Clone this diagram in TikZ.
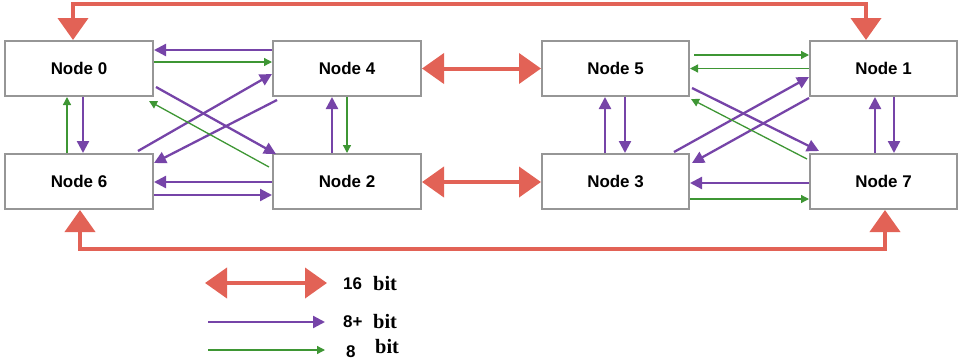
\documentclass[tikz,border=0pt]{standalone}
\usepackage{fontspec}
\setmainfont{Liberation Serif}
\newfontfamily\hv{Liberation Sans}
\usetikzlibrary{arrows.meta,calc}
\definecolor{linkred}{RGB}{226,98,86}
\definecolor{linkpurple}{RGB}{118,68,168}
\definecolor{linkgreen}{RGB}{62,150,52}
\definecolor{boxgray}{RGB}{150,150,150}
\tikzset{
  nodebox/.style={draw=boxgray, line width=2bp, fill=white, minimum width=148bp,
    minimum height=55bp, inner sep=0pt, font=\hv\bfseries\fontsize{17}{19}\selectfont},
  wide/.style={line width=4bp, draw=linkred,
    {Triangle[length=22bp,width=30bp]}-{Triangle[length=22bp,width=30bp]}},
  mid/.style={line width=2.3bp, draw=linkpurple, -{Triangle[length=12bp,width=12bp]}},
  thin/.style={line width=1.3bp, draw=linkgreen, -{Triangle[length=8bp,width=8bp]}},
  numtxt/.style={font=\hv\bfseries\fontsize{17}{19}\selectfont},
  unittxt/.style={font=\bfseries\fontsize{20.5}{22}\selectfont}
}
\begin{document}
\begin{tikzpicture}[x=1bp,y=-1bp]
\useasboundingbox (0,0) rectangle (958,362);

% the eight nodes
\node[nodebox] (n0) at (79,68.5)    {Node 0};
\node[nodebox] (n4) at (347,68.5)   {Node 4};
\node[nodebox] (n6) at (79,181.5)   {Node 6};
\node[nodebox] (n2) at (347,181.5)  {Node 2};
\node[nodebox, minimum width=147bp] (n5) at (615.5,68.5)  {Node 5};
\node[nodebox, minimum width=147bp] (n1) at (883.5,68.5)  {Node 1};
\node[nodebox, minimum width=147bp] (n3) at (615.5,181.5) {Node 3};
\node[nodebox, minimum width=147bp] (n7) at (883.5,181.5) {Node 7};

% 16 bit links
\draw[wide] ($(n0.north)+(-6,0)$) -- ++(0,-36) -| ($(n1.north)+(-17.5,0)$);
\draw[wide] ($(n6.south)+(1,0)$) -- ++(0,39) -| ($(n7.south)+(1.5,0)$);
\draw[wide] (n4.east) -- (n5.west);
\draw[wide] ($(n2.east)+(0,0.5)$) -- ($(n3.west)+(0,0.5)$);

% left group
\draw[mid]  ($(n4.west)+(0,-18.5)$) -- ($(n0.east)+(0,-18.5)$);
\draw[thin] ($(n0.east)+(0,-6.5)$) -- ($(n4.west)+(0,-6.5)$);
\draw[mid]  ($(n0.south)+(4,0)$) -- ($(n6.north)+(4,0)$);
\draw[thin] ($(n6.north)+(-12,0)$) -- ($(n0.south)+(-12,0)$);
\draw[mid]  ($(n2.north)+(-15,0)$) -- ($(n4.south)+(-15,0)$);
\draw[thin] (n4.south) -- (n2.north);
\draw[mid]  ($(n2.west)+(0,0.5)$) -- ($(n6.east)+(0,0.5)$);
\draw[mid]  ($(n6.east)+(0,13.5)$) -- ($(n2.west)+(0,13.5)$);
\draw[mid]  ($(n0.east)+(2,18.5)$) -- ($(n2.north west)+(4,1)$);
\draw[mid]  ($(n6.north east)+(-16,-2)$) -- ($(n4.west)+(0,5.5)$);
\draw[mid]  ($(n4.south west)+(5,3)$) -- ($(n6.east)+(0,-18.5)$);
\draw[thin] ($(n2.west)+(-3,-14.5)$) -- ($(n0.south east)+(-5,4)$);

% right group
\draw[thin] ($(n5.east)+(4,-13.5)$) -- ($(n1.west)+(0,-13.5)$);
\draw[thin] ($(n1.west)+(0,0)$) -- ($(n5.east)+(0,0)$);
\draw[mid]  ($(n3.north)+(-10.5,0)$) -- ($(n5.south)+(-10.5,0)$);
\draw[mid]  ($(n5.south)+(9.5,0)$) -- ($(n3.north)+(9.5,0)$);
\draw[mid]  ($(n7.north)+(-8.5,0)$) -- ($(n1.south)+(-8.5,0)$);
\draw[mid]  ($(n1.south)+(10.5,0)$) -- ($(n7.north)+(10.5,0)$);
\draw[mid]  ($(n7.west)+(0,1.5)$) -- ($(n3.east)+(0,1.5)$);
\draw[thin] ($(n3.east)+(0,17.5)$) -- ($(n7.west)+(0,17.5)$);
\draw[mid]  ($(n5.east)+(2,19.5)$) -- ($(n7.north west)+(10,-2)$);
\draw[mid]  ($(n3.north east)+(-16,-1)$) -- ($(n1.west)+(0,8.5)$);
\draw[mid]  ($(n1.south west)+(0,1)$) -- ($(n3.east)+(2,-18.5)$);
\draw[thin] ($(n7.north west)+(-2,6)$) -- ($(n5.south east)+(1,2)$);

% legend
\coordinate (la) at (205,283);
\coordinate (lb) at (327,283);
\coordinate (lc) at (208,322);
\coordinate (ld) at (325,322);
\coordinate (le) at (208,350);
\coordinate (lf) at (325,350);
\draw[wide] (la) -- (lb);
\draw[mid]  (lc) -- (ld);
\draw[thin] (le) -- (lf);
\node[anchor=base west, inner sep=0pt, numtxt] (t16) at (343,289.5) {16};
\node[anchor=base west, inner sep=0pt, unittxt] (b16) at (373,290.5) {bit};
\node[anchor=base west, inner sep=0pt, numtxt] (t8p) at (343,327.5) {8+};
\node[anchor=base west, inner sep=0pt, unittxt] (b8p) at (373,328.5) {bit};
\node[anchor=base west, inner sep=0pt, numtxt] (t8) at (346,357) {8};
\node[anchor=base west, inner sep=0pt, unittxt] (b8) at (375,353) {bit};
\end{tikzpicture}
\end{document}
